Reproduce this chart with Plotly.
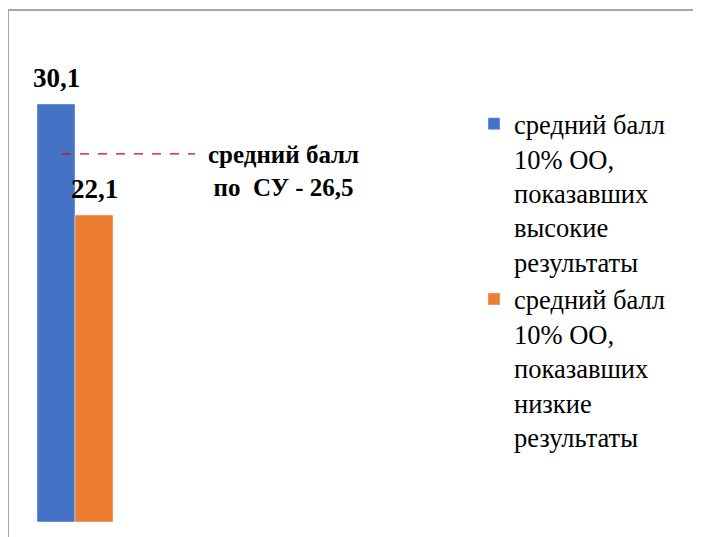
import plotly.graph_objects as go

categories = [""]
series_names = [
    "средний балл<br>10% ОО,<br>показавших<br>высокие<br>результаты",
    "средний балл<br>10% ОО,<br>показавших<br>низкие<br>результаты",
]
series_values = [[30.1], [22.1]]
series_colors = ["#4472C4", "#ED7D31"]
avg_value = 26.5
avg_label = "средний балл<br>по  СУ - 26,5"

SERIF = "'Liberation Serif', 'Times New Roman', Tinos, 'DejaVu Serif', serif"

# page offset (body margin) compensation
OX, OY = 8, 8
W, H = 701 - OX, 537 - OY
L, T, B = 10 - OX, 22 - OY, 537 - 522
R = 11
pw, ph = W - L - R, H - T - B

def px_x(p):
    return (p - OX - L) / pw

def px_y(p):
    return 1 - (p - OY - T) / ph

BARGAP = 0.2
n_series = len(series_values)
bar_w = (1 - BARGAP) / n_series

fig = go.Figure()
for i, (name, vals, col) in enumerate(zip(series_names, series_values, series_colors)):
    fig.add_trace(go.Bar(
        x=categories, y=vals, name=name, marker_color=col,
        hoverinfo="skip",
    ))
    for ci, v in enumerate(vals):
        xc = ci - (1 - BARGAP) / 2 + bar_w * (i + 0.5)
        fig.add_annotation(
            x=xc, y=v, xref="x", yref="y",
            text="<b>" + f"{v:.1f}".replace(".", ",") + "</b>",
            showarrow=False, xanchor="center", yanchor="bottom", yshift=9,
            font=dict(family=SERIF, size=27, color="black"),
        )

fig.add_shape(type="line", xref="paper", yref="y",
              x0=px_x(62), x1=px_x(195), y0=avg_value, y1=avg_value,
              line=dict(color="#E00000", width=1.3, dash="dash"))
fig.add_annotation(xref="paper", yref="paper", x=px_x(283), y=px_y(171),
                   text="<b>" + avg_label + "</b>", showarrow=False,
                   font=dict(family=SERIF, size=25, color="black"),
                   align="center", xanchor="center", yanchor="middle")

# outer chart border (top and left visible)
fig.add_shape(type="line", xref="paper", yref="paper",
              x0=px_x(8), x1=px_x(720), y0=px_y(10), y1=px_y(10),
              line=dict(color="#A6A6A6", width=2))
fig.add_shape(type="line", xref="paper", yref="paper",
              x0=px_x(8), x1=px_x(8), y0=px_y(10), y1=px_y(560),
              line=dict(color="#A6A6A6", width=2))

# x axis: place group centre at px 75 with group width 76 px
u = 76 / (1 - BARGAP)
x0 = -(75 - OX - L) / u
x1 = x0 + pw / u

fig.update_layout(
    width=W, height=H,
    margin=dict(l=L, r=R, t=T, b=B, pad=0),
    plot_bgcolor="white", paper_bgcolor="white",
    barmode="group", bargap=BARGAP, bargroupgap=0,
    xaxis=dict(range=[x0, x1], showticklabels=False, showgrid=False,
               zeroline=False, showline=False, fixedrange=True),
    yaxis=dict(range=[0, 36], showticklabels=False, showgrid=False,
               zeroline=False, showline=False),
    showlegend=True,
    legend=dict(x=px_x(474), y=px_y(100), xanchor="left", yanchor="top",
                valign="top", bgcolor="rgba(0,0,0,0)",
                font=dict(family=SERIF, size=26.5, color="black"),
                tracegroupgap=0),
)

fig.write_html("out.html")
